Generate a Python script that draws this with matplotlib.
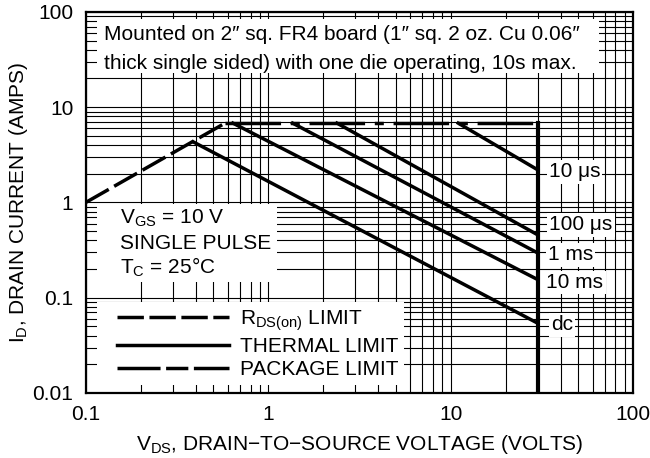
import matplotlib
matplotlib.use("Agg")
import matplotlib.pyplot as plt
from matplotlib.lines import Line2D
from matplotlib.patches import Rectangle
from matplotlib.ticker import FuncFormatter, LogLocator

plt.rcParams['font.family'] = ['Liberation Sans', 'DejaVu Sans']
plt.rcParams['mathtext.fontset'] = 'custom'
plt.rcParams['mathtext.rm'] = 'Liberation Sans'
plt.rcParams['mathtext.it'] = 'Liberation Sans'
plt.rcParams['mathtext.default'] = 'regular'
plt.rcParams['lines.scale_dashes'] = False

# RDS(on) limit
rds_v = [0.1, 0.58]
rds_i = [1.0, 6.8]
# package limit
pkg_v = [0.58, 30]
pkg_i = [6.8, 6.8]
# thermal limits (start on the package / rds line, end at 30 V)
pulse_names = ["10 μs", "100 μs", "1 ms", "10 ms", "dc"]
pulse_v = [[11.0, 30], [2.38, 30], [1.36, 30], [0.64, 30], [0.39, 30]]
pulse_i = [[6.8, 2.2], [6.8, 0.457], [6.8, 0.295], [6.8, 0.155], [4.3, 0.054]]
label_v = [34.5, 34.8, 34.0, 33.5, 35.5]
label_y = [2.09, 0.58, 0.281, 0.143, 0.0517]
# BVdss vertical
bv_v = [30, 30]
bv_i = [6.8, 0.01]

rds_dash = (0, (19, 4.5))
pkg_dash = (0, (40, 7, 6.5, 7))
lw = 2.5
fs = 15

fig = plt.figure(figsize=(6.5, 4.58), dpi=100)
ax = fig.add_axes([0.132, 0.142, 0.842, 0.832])
ax.set_xscale('log')
ax.set_yscale('log')
ax.set_xlim(0.1, 100)
ax.set_ylim(0.01, 100)

ax.grid(which='both', color='black', lw=0.8)
ax.set_axisbelow(True)
ax.xaxis.set_minor_locator(LogLocator(base=10, subs=range(2, 10)))
ax.yaxis.set_minor_locator(LogLocator(base=10, subs=range(2, 10)))
fmt = FuncFormatter(lambda v, _: f'{v:g}')
ax.xaxis.set_major_formatter(fmt)
ax.yaxis.set_major_formatter(fmt)
ax.tick_params(which='both', length=0, labelsize=fs, pad=9)
for s in ax.spines.values():
    s.set_linewidth(1.6)

ax.plot(rds_v, rds_i, color='black', lw=lw, ls=rds_dash, zorder=3)
ax.plot(pkg_v, pkg_i, color='black', lw=lw, ls=pkg_dash, zorder=3)
for v, i in zip(pulse_v, pulse_i):
    ax.plot(v, i, color='black', lw=lw, zorder=3)
ax.plot(bv_v, bv_i, color='black', lw=3, zorder=3)

box = dict(facecolor='white', edgecolor='none', pad=1.5)
for name, x, y in zip(pulse_names, label_v, label_y):
    ax.text(x, y, name, fontsize=fs, va='center', ha='left', bbox=box, zorder=4)

# white panels behind the text blocks
ax.add_patch(Rectangle((0.02, 0.84), 0.917, 0.142, transform=ax.transAxes,
                       facecolor='white', edgecolor='none', zorder=2))
ax.text(0.033, 0.94, "Mounted on 2″ sq. FR4 board (1″ sq. 2 oz. Cu 0.06″",
        transform=ax.transAxes, fontsize=fs, va='center', zorder=4)
ax.text(0.033, 0.865, "thick single sided) with one die operating, 10s max.",
        transform=ax.transAxes, fontsize=fs, va='center', zorder=4)

ax.add_patch(Rectangle((0.02, 0.29), 0.33, 0.205, transform=ax.transAxes,
                       facecolor='white', edgecolor='none', zorder=2))
ax.text(0.062, 0.458, "V$_{GS}$ = 10 V", transform=ax.transAxes, fontsize=fs,
        va='center', zorder=4)
ax.text(0.062, 0.393, "SINGLE PULSE", transform=ax.transAxes, fontsize=fs,
        va='center', zorder=4)
ax.text(0.062, 0.33, "T$_{C}$ = 25°C", transform=ax.transAxes, fontsize=fs,
        va='center', zorder=4)

ax.add_patch(Rectangle((0.02, 0.02), 0.56, 0.22, transform=ax.transAxes,
                       facecolor='white', edgecolor='none', zorder=2))
handles = [Line2D([], [], color='black', lw=lw, ls=(0, (19, 4))),
           Line2D([], [], color='black', lw=lw),
           Line2D([], [], color='black', lw=lw, ls=(0, (31, 4, 16, 4)))]
labels = ["R$_{DS(on)}$ LIMIT", "THERMAL LIMIT", "PACKAGE LIMIT"]
leg = ax.legend(handles, labels, loc='lower left', bbox_to_anchor=(0.045, 0.02),
                borderaxespad=0, fontsize=fs, handlelength=5.4, handletextpad=0.5,
                labelspacing=0.2, borderpad=0.3, frameon=True, fancybox=False,
                framealpha=1, edgecolor='none', facecolor='white')
leg.set_zorder(5)

ax.set_xlabel("V$_{DS}$, DRAIN−TO−SOURCE VOLTAGE (VOLTS)", fontsize=fs)
ax.set_ylabel("I$_{D}$, DRAIN CURRENT (AMPS)", fontsize=fs)
ax.xaxis.set_label_coords(0.5, -0.105)
ax.yaxis.set_label_coords(-0.102, 0.5)

fig.savefig("out.png", dpi=100)
